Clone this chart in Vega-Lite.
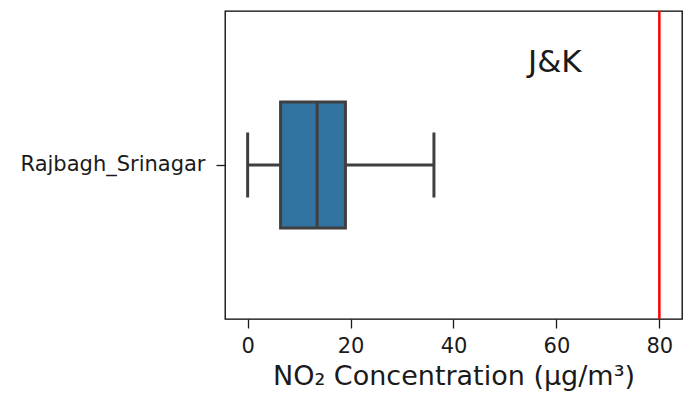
{
  "$schema": "https://vega.github.io/schema/vega-lite/v6.json",
  "width": 457,
  "height": 308,
  "autosize": "none",
  "padding": {"left": 225, "top": 11, "right": 9, "bottom": 84},
  "background": "white",
  "config": {
    "view": {"stroke": "black", "strokeWidth": 1.3},
    "font": "DejaVu Sans",
    "axis": {"labelFont": "DejaVu Sans", "titleFont": "DejaVu Sans", "labelColor": "#1a1a1a", "titleColor": "#1a1a1a", "tickColor": "#1a1a1a", "domain": false, "grid": false, "tickSize": 9, "tickWidth": 1.3, "labelFontSize": 21, "titleFontSize": 27, "titleFontWeight": "normal", "labelLimit": 400}
  },
  "data": {"values": [{"station": "Rajbagh_Srinagar", "lo": 0, "q1": 6.4, "median": 13.5, "q3": 19.0, "hi": 36.2, "limit": 80, "label": "J&K", "labelx": 59.7}]},
  "encoding": {
    "y": {"field": "station", "type": "nominal", "scale": {"paddingInner": 0, "paddingOuter": 0}, "axis": {"title": null, "labelPadding": 11, "labelLimit": 400}}
  },
  "layer": [
    {
      "mark": {"type": "rule", "color": "#3f3f3f", "strokeWidth": 3},
      "encoding": {
        "x": {"field": "lo", "type": "quantitative", "scale": {"domain": [-4.4, 84.4], "nice": false, "zero": false}, "axis": {"title": "NO₂ Concentration (µg/m³)", "values": [0, 20, 40, 60, 80], "labelPadding": 7, "titlePadding": 7}},
        "x2": {"field": "hi"}
      }
    },
    {
      "mark": {"type": "bar", "size": 126, "fill": "#3274a1", "stroke": "#3f3f3f", "strokeWidth": 3},
      "encoding": {"x": {"field": "q1", "type": "quantitative"}, "x2": {"field": "q3"}}
    },
    {
      "mark": {"type": "tick", "size": 124, "thickness": 3, "color": "#3f3f3f", "opacity": 1},
      "encoding": {"x": {"field": "median", "type": "quantitative"}}
    },
    {
      "mark": {"type": "tick", "size": 65, "thickness": 3, "color": "#3f3f3f", "opacity": 1},
      "encoding": {"x": {"field": "lo", "type": "quantitative"}}
    },
    {
      "mark": {"type": "tick", "size": 65, "thickness": 3, "color": "#3f3f3f", "opacity": 1},
      "encoding": {"x": {"field": "hi", "type": "quantitative"}}
    },
    {
      "mark": {"type": "rule", "color": "red", "strokeWidth": 2.5},
      "encoding": {"x": {"field": "limit", "type": "quantitative"}, "y": {"value": 0}, "y2": {"value": 308}}
    },
    {
      "mark": {"type": "text", "fontSize": 31, "font": "DejaVu Sans", "color": "#1a1a1a", "align": "center", "baseline": "middle", "dy": -102},
      "encoding": {"x": {"field": "labelx", "type": "quantitative"}, "text": {"field": "label"}}
    }
  ]
}
